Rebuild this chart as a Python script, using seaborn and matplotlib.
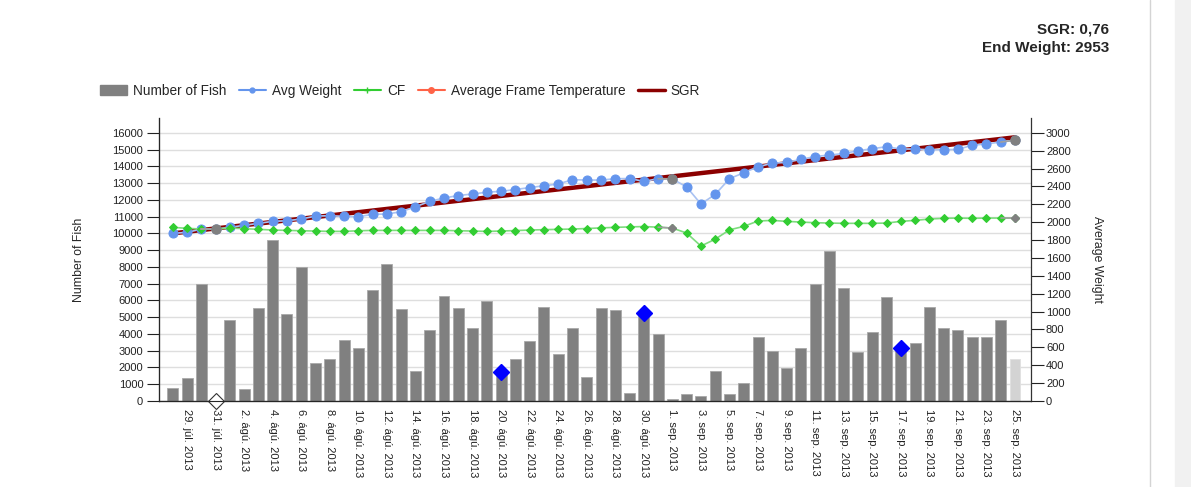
import matplotlib
matplotlib.use("Agg")
import matplotlib.pyplot as plt
from matplotlib.lines import Line2D
from matplotlib.patches import Patch, Rectangle
import numpy as np
import pandas as pd
import seaborn as sns

# one value per day, 28 jul 2013 .. 25 sep 2013
num_fish = [800, 1350, 7000, 0, 4830, 720, 5550, 9620, 5190, 7970,
            2270, 2490, 3620, 3180, 6620, 8190, 5470, 1770, 4210, 6260,
            5550, 4330, 5980, 1730, 2490, 3560, 5630, 2780, 4330, 1410,
            5550, 5410, 500, 5230, 3980, 140, 420, 280, 1770, 420,
            1050, 3840, 3000, 1990, 3180, 7000, 8970, 6760, 2920, 4140,
            6180, 3140, 3480, 5630, 4330, 4250, 3840, 3840, 4850, 2490]

avg_weight = [1875, 1886, 1923, 1923, 1942, 1965, 1987, 2009, 2016, 2035,
              2068, 2072, 2065, 2061, 2088, 2091, 2117, 2172, 2233, 2270,
              2298, 2315, 2335, 2345, 2365, 2387, 2407, 2427, 2475, 2471,
              2471, 2486, 2488, 2456, 2486, 2484, 2393, 2203, 2311, 2486,
              2553, 2620, 2659, 2669, 2702, 2734, 2751, 2768, 2799, 2821,
              2844, 2818, 2818, 2810, 2810, 2814, 2860, 2875, 2896, 2916]

cf = [1942, 1931, 1923, 1923, 1934, 1927, 1920, 1912, 1908, 1904,
      1901, 1897, 1897, 1904, 1908, 1908, 1908, 1908, 1908, 1908,
      1904, 1901, 1897, 1901, 1906, 1912, 1916, 1920, 1923, 1929,
      1936, 1942, 1947, 1951, 1944, 1934, 1878, 1733, 1810, 1914,
      1953, 2013, 2020, 2009, 2001, 1994, 1990, 1987, 1987, 1987,
      1990, 2009, 2020, 2035, 2043, 2046, 2043, 2046, 2046, 2046]

sgr_days = [0, 59]
sgr_line = [1875, 2949]

gray_days = [3, 35, 59]          # days drawn with grey markers
event_days = [23, 33, 51]        # blue diamonds
event_vals = [1730, 5230, 3140]
empty_day = 3                    # white diamond at 0

month_is = {7: "júl.", 8: "ágú.", 9: "sep."}
dates = pd.date_range("2013-07-28", "2013-09-25")
tick_days = list(range(1, 60, 2))
tick_labels = [f"{dates[i].day}. {month_is[dates[i].month]} {dates[i].year}" for i in tick_days]

days = np.arange(len(num_fish))

sns.set_style("white")
plt.rcParams["font.family"] = ["Liberation Sans", "DejaVu Sans"]

fig = plt.figure(figsize=(11.91, 4.87), dpi=100)
ax = fig.add_axes([158.5 / 1191, 86 / 487, 872.2 / 1191, 283 / 487])

sns.barplot(x=days, y=num_fish, color="#808080", saturation=1, width=0.77,
            edgecolor="#a9a9a9", linewidth=0.6, ax=ax)
ax.patches[-1].set_facecolor("#d3d3d3")
ax.patches[-1].set_edgecolor("#e0e0e0")

ax.plot(event_days, event_vals, "D", color="#0000ff", ms=8.5, zorder=5)
ax.plot([empty_day], [0], "D", mfc="white", mec="#333333", mew=0.8, ms=8.5,
        zorder=6, clip_on=False)

ax.set_ylim(0, 16880)
ax.set_yticks(range(0, 16001, 1000))
ax.yaxis.grid(True, color="#dedede", lw=1)
ax.set_axisbelow(True)
ax.set_xlim(-1.0, 60.1)
ax.set_xticks(tick_days)
ax.set_xticklabels(tick_labels, rotation=-90, fontsize=8)
ax.tick_params(axis="x", length=5, width=0.8, pad=1, colors="#222222")
ax.tick_params(axis="y", length=9, width=0.8, pad=2, labelsize=8, colors="#222222")
ax.set_ylabel("Number of Fish", fontsize=8.8)
ax.yaxis.set_label_coords(-0.084, 0.5)
for s in ["top", "right"]:
    ax.spines[s].set_visible(False)
for s in ["left", "bottom"]:
    ax.spines[s].set_color("#333333")
    ax.spines[s].set_linewidth(0.9)

ax2 = ax.twinx()
ax2.plot(sgr_days, sgr_line, color="#8b0000", lw=3.2, zorder=2)
sns.lineplot(x=days, y=avg_weight, ax=ax2, color="#a9c2f2", lw=1.2,
             marker="o", ms=6.5, mfc="#6495ed", mec="#6495ed", zorder=3)
sns.lineplot(x=days, y=cf, ax=ax2, color="#7edc7e", lw=1.2,
             marker="D", ms=4.5, mfc="#32cd32", mec="#32cd32", zorder=3)
for d in gray_days:
    ax2.plot([d - 1, d], [avg_weight[d - 1], avg_weight[d]], color="#a0a0a0", lw=1.2, zorder=3)
    ax2.plot([d - 1, d], [cf[d - 1], cf[d]], color="#a0a0a0", lw=1.2, zorder=3)
    ax2.plot(d, avg_weight[d], "o", color="#808080", ms=6.5, zorder=4)
    ax2.plot(d, cf[d], "D", color="#808080", ms=4.5, zorder=4)

ax2.set_ylim(0, 3165)
ax2.set_yticks(range(0, 3001, 200))
ax2.tick_params(axis="y", length=9, width=0.8, pad=2, labelsize=8, colors="#222222")
ax2.set_ylabel("Average Weight", fontsize=8.8, rotation=-90)
ax2.yaxis.set_label_coords(1.083, 0.5)
ax2.spines["top"].set_visible(False)
ax2.spines["right"].set_color("#333333")
ax2.spines["right"].set_linewidth(0.9)
ax2.grid(False)

handles = [
    Patch(facecolor="#808080", edgecolor="#808080"),
    Line2D([], [], color="#6495ed", lw=1.5, marker="o", ms=3.5),
    Line2D([], [], color="#32cd32", lw=1.5, marker="+", ms=4),
    Line2D([], [], color="#ff6347", lw=1.5, marker="o", ms=4),
    Line2D([], [], color="#8b0000", lw=2.5),
]
labels = ["Number of Fish", "Avg Weight", "CF", "Average Frame Temperature", "SGR"]
fig.legend(handles, labels, loc="center left", bbox_to_anchor=(88 / 1191, 1 - 91 / 487),
           ncol=5, frameon=False, fontsize=9.8, handlelength=1.95, handleheight=0.8,
           columnspacing=0.95, handletextpad=0.45)

fig.text(1109 / 1191, 1 - 30 / 487, "SGR: 0,76", ha="right", va="center",
         fontsize=11, fontweight="bold")
fig.text(1109 / 1191, 1 - 48 / 487, "End Weight: 2953", ha="right", va="center",
         fontsize=11, fontweight="bold")

fig.add_artist(Rectangle((1175 / 1191, 0), 16 / 1191, 1, transform=fig.transFigure,
                         color="#f1f1f1", zorder=0))
fig.add_artist(Line2D([1149.5 / 1191] * 2, [0, 1], transform=fig.transFigure,
                      color="#d4d4d4", lw=1))

fig.savefig("out.png", dpi=100)
